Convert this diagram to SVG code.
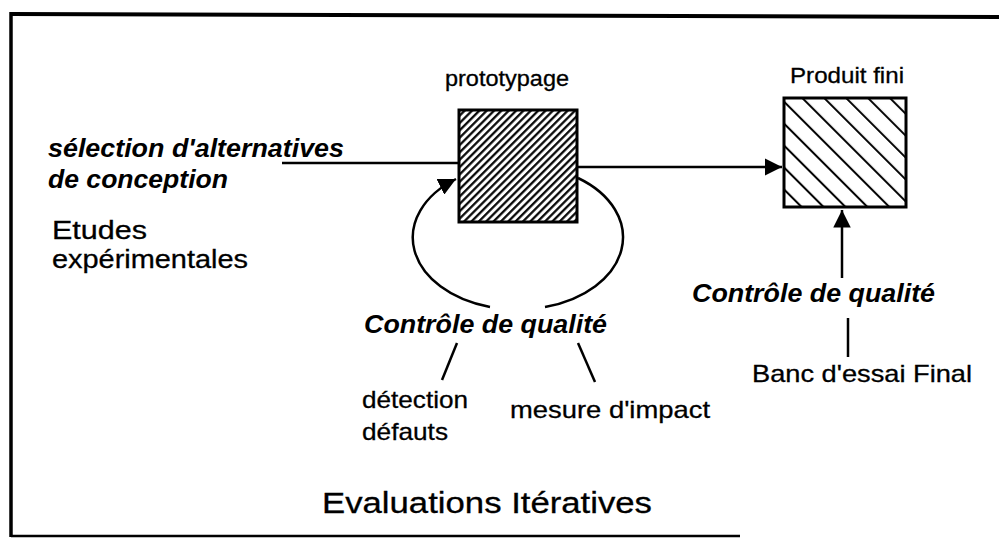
<svg xmlns="http://www.w3.org/2000/svg" width="999" height="538" viewBox="0 0 999 538">
<style>
.r{font-family:"Liberation Sans",Arial,sans-serif;fill:#000;stroke:#000;stroke-width:0.3}
.bi{font-family:"Liberation Sans",Arial,sans-serif;font-weight:bold;font-style:italic;fill:#000}
.ln{stroke:#000;stroke-width:2.5;fill:none}
.box{stroke:#000;stroke-width:3}
</style>
<defs>
<pattern id="hatchDense" patternUnits="userSpaceOnUse" width="5.2" height="5.2" patternTransform="rotate(45)">
<rect width="5.2" height="5.2" fill="#fff"/>
<line x1="1.2" y1="0" x2="1.2" y2="5.2" stroke="#000" stroke-width="2.2"/>
</pattern>
<pattern id="hatchWide" patternUnits="userSpaceOnUse" width="15.5" height="15.5" patternTransform="rotate(-45)">
<rect width="15.5" height="15.5" fill="#fff"/>
<line x1="2" y1="0" x2="2" y2="15.5" stroke="#000" stroke-width="2"/>
</pattern>
<marker id="arr" viewBox="0 0 10 10" refX="10" refY="5" markerWidth="7" markerHeight="7" markerUnits="strokeWidth" orient="auto">
<path d="M0,0 L10,5 L0,10 z" fill="#000"/>
</marker>
</defs>
<g id="frame">
<path d="M10,14 L999,17" stroke="#000" stroke-width="4"/>
<path d="M11,12 L11,537" stroke="#000" stroke-width="3.5"/>
<path d="M11,536 L740,536" stroke="#000" stroke-width="2.5"/>
</g>
<g id="connectors">
<path class="ln" d="M282,163 L459,163"/>
<path class="ln" d="M577,167 L782,167" marker-end="url(#arr)"/>
<path class="ln" d="M578,178 A104,72 0 0 1 545,307"/>
<path class="ln" d="M490,307 A104,72 0 0 1 456,179" marker-end="url(#arr)"/>
<path class="ln" d="M842,278 L842,210" marker-end="url(#arr)"/>
<path class="ln" d="M848,318 L848,357"/>
<path class="ln" d="M457,343 L442,380"/>
<path class="ln" d="M578,343 L595,382"/>
</g>
<g id="prototypage">
<rect class="box" x="459" y="110" width="118" height="112" fill="url(#hatchDense)"/>
<text class="r" x="445" y="86" font-size="22" textLength="124" lengthAdjust="spacingAndGlyphs">prototypage</text>
</g>
<g id="produit-fini">
<rect class="box" x="784" y="98" width="122" height="109" fill="url(#hatchWide)"/>
<text class="r" x="790" y="83" font-size="22" textLength="114" lengthAdjust="spacingAndGlyphs">Produit fini</text>
</g>
<g id="selection">
<text class="bi" x="48" y="157" font-size="26" textLength="296" lengthAdjust="spacingAndGlyphs">sélection d'alternatives</text>
<text class="bi" x="48" y="188" font-size="26" textLength="180" lengthAdjust="spacingAndGlyphs">de conception</text>
</g>
<g id="etudes">
<text class="r" x="52" y="239" font-size="25" textLength="95" lengthAdjust="spacingAndGlyphs">Etudes</text>
<text class="r" x="52" y="268" font-size="25" textLength="196" lengthAdjust="spacingAndGlyphs">expérimentales</text>
</g>
<g id="controle-proto">
<text class="bi" x="364" y="333" font-size="26" textLength="243" lengthAdjust="spacingAndGlyphs">Contrôle de qualité</text>
</g>
<g id="detection">
<text class="r" x="362" y="408" font-size="24" textLength="106" lengthAdjust="spacingAndGlyphs">détection</text>
<text class="r" x="362" y="440" font-size="24" textLength="86" lengthAdjust="spacingAndGlyphs">défauts</text>
</g>
<g id="mesure">
<text class="r" x="510" y="418" font-size="24" textLength="200" lengthAdjust="spacingAndGlyphs">mesure d'impact</text>
</g>
<g id="controle-final">
<text class="bi" x="692" y="302" font-size="26" textLength="243" lengthAdjust="spacingAndGlyphs">Contrôle de qualité</text>
</g>
<g id="banc">
<text class="r" x="752" y="382" font-size="24" textLength="220" lengthAdjust="spacingAndGlyphs">Banc d'essai Final</text>
</g>
<g id="title">
<text class="r" x="322" y="513" font-size="29" textLength="330" lengthAdjust="spacingAndGlyphs">Evaluations Itératives</text>
</g>
</svg>
